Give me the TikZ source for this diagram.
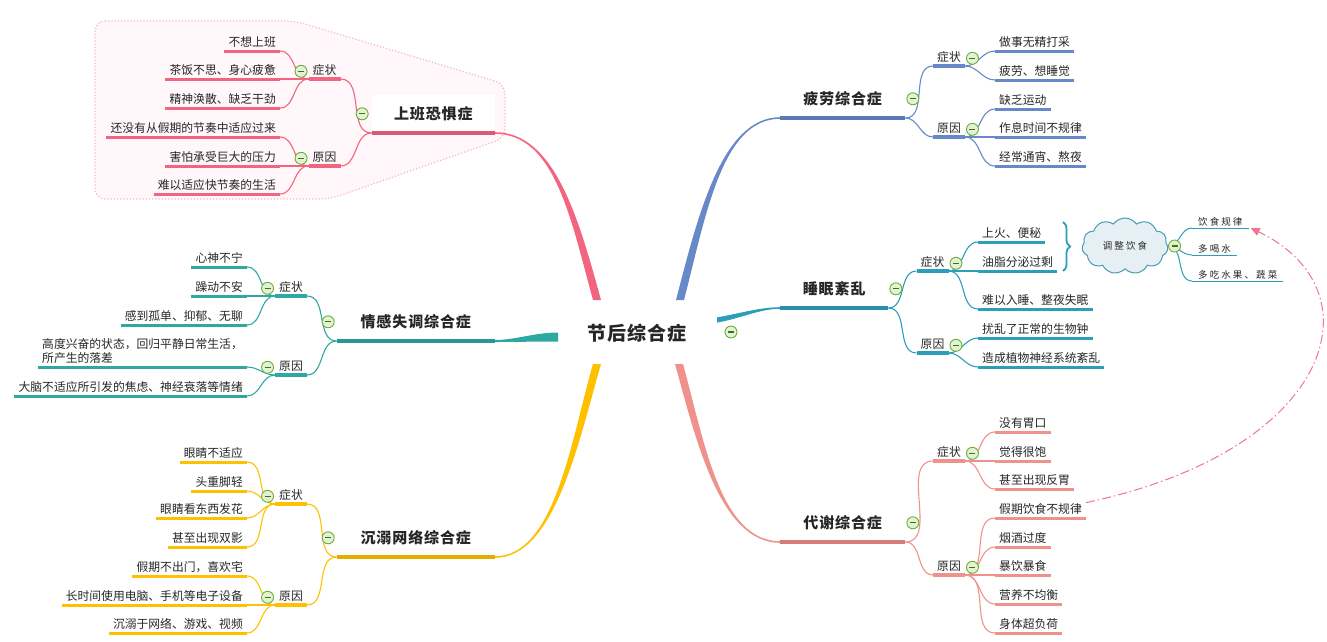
\documentclass[tikz,border=0pt]{standalone}
\usepackage{fontspec}
\setmainfont{Noto Sans CJK SC}
\usepackage{xcolor}
\usepackage{tikz}
\usetikzlibrary{positioning,arrows.meta,calc,shapes.symbols,decorations.pathreplacing}

\definecolor{sbC}{HTML}{F26580}
\definecolor{sbD}{HTML}{DA5A73}
\definecolor{plC}{HTML}{6889C8}
\definecolor{plD}{HTML}{5B7AB3}
\definecolor{smC}{HTML}{2C9EBA}
\definecolor{smD}{HTML}{2A8FA8}
\definecolor{qgC}{HTML}{2FA7A2}
\definecolor{qgD}{HTML}{2A9791}
\definecolor{cnC}{HTML}{FFC000}
\definecolor{cnD}{HTML}{E6AC00}
\definecolor{dxC}{HTML}{F0928C}
\definecolor{dxD}{HTML}{D67C78}
\definecolor{txt}{HTML}{262626}
\definecolor{foldG}{HTML}{6AAD3A}
\definecolor{foldF}{HTML}{E3F2D2}
\definecolor{foldM}{HTML}{3F6F25}
\definecolor{bndF}{HTML}{FFF7FA}
\definecolor{bndD}{HTML}{F5B5C8}
\definecolor{cldF}{HTML}{E6EFF4}
\definecolor{cldD}{HTML}{4A9AB3}
\definecolor{relC}{HTML}{F07490}

\newcommand\leaffont{\fontsize{11.8pt}{14pt}\selectfont}
\newcommand\brfont{\fontsize{15pt}{18pt}\selectfont\bfseries\addfontfeature{LetterSpace=6}}
\newcommand\hubfont{\fontsize{19pt}{22pt}\selectfont\bfseries\addfontfeature{LetterSpace=6}}
\newcommand\notefont{\fontsize{9.5pt}{11pt}\selectfont\addfontfeature{LetterSpace=22}}

% tapered main branch: colour, start, control 1, control 2, end, half width at start, half width at end
\newcommand\brtaper[7]{%
  \fill[#1] ($#2+#6$) .. controls ($#3+#6$) and ($#4+#7$) .. ($#5+#7$)
    -- ($#5-#7$) .. controls ($#4-#7$) and ($#3-#6$) .. ($#2-#6$) -- cycle;}

\begin{document}
\begin{tikzpicture}[x=1pt, y=-1pt,
  base/.style={text=txt, inner xsep=4pt, inner ysep=2.5pt, text height=8.5pt, text depth=1.5pt},
  leaf/.style={base, font=\leaffont,
    append after command={(\tikzlastnode.south west) edge[draw=#1, line width=3pt] (\tikzlastnode.south east)}},
  sub/.style={base, font=\leaffont, anchor=south,
    append after command={(\tikzlastnode.south west) edge[draw=#1, line width=4pt] (\tikzlastnode.south east)}},
  title/.style={text=txt, font=\brfont, inner sep=0pt, minimum height=38pt,
    append after command={(\tikzlastnode.south west) edge[draw=#1, line width=4.5pt] (\tikzlastnode.south east)}},
  note/.style={text=txt, font=\notefont, anchor=south west, inner xsep=6pt, inner ysep=1pt,
    text height=7pt, text depth=1pt,
    append after command={(\tikzlastnode.south west) edge[draw=smC, line width=1pt] (\tikzlastnode.south east)}},
  lnk/.style={draw=#1, line width=1.1pt},
  fold/.style={circle, draw=foldG, fill=foldF, line width=0.9pt, minimum size=12pt, inner sep=0pt,
    path picture={\draw[foldM, line width=1.3pt] ([xshift=3pt]path picture bounding box.west)
      -- ([xshift=-3pt]path picture bounding box.east);}},
  bnd/.style={fill=bndF, draw=bndD, dotted, line width=1.2pt, rounded corners=10pt},
  brc/.style={decorate, decoration={brace, amplitude=7pt}, draw=smC, line width=1.8pt},
  relarr/.style={draw=relC, line width=1pt, dash pattern=on 9pt off 3pt on 1.5pt off 3pt,
    -{Triangle[length=9pt, width=8pt, fill=relC]}}
]
\useasboundingbox (0,0) rectangle (1327,641);

% boundary round the first branch
\draw[bnd] (95,21) -- (295,21) -- (505,84) -- (505,138) -- (330,199) -- (95,199) -- cycle;

% centre
\node[font=\hubfont, text=txt] (hub) at (637,333) {节后综合症};
\coordinate (hub-sb) at (597,300);
\coordinate (hub-pl) at (680,300);
\coordinate (hub-sm) at (717,320);
\coordinate (hub-qg) at (558,337);
\coordinate (hub-cn) at (597,364);
\coordinate (hub-dx) at (679,364);

% main topics
\node[title=sbD, minimum width=123pt, anchor=south east, fill=white] (sb) at (495,133) {上班恐惧症};
\node[title=plD, minimum width=125pt, anchor=south west] (pl) at (780,118) {疲劳综合症};
\node[title=smD, minimum width=108pt, anchor=south west] (sm) at (780,308) {睡眠紊乱};
\node[title=qgD, minimum width=158pt, anchor=south east] (qg) at (495,341) {情感失调综合症};
\node[title=cnD, minimum width=158pt, anchor=south east] (cn) at (495,557) {沉溺网络综合症};
\node[title=dxD, minimum width=125pt, anchor=south west] (dx) at (780,542) {代谢综合症};

\brtaper{sbC}{(hub-sb)}{(575,220)}{(555,133)}{(sb.south east)}{(4,0)}{(0,-0.8)}
\brtaper{plC}{(hub-pl)}{(702,215)}{(722,118)}{(pl.south west)}{(4,0)}{(0,0.8)}
\brtaper{smC}{(hub-sm)}{(740,316)}{(760,308)}{(sm.south west)}{(0,2.6)}{(0,0.8)}
\brtaper{qgC}{(hub-qg)}{(535,337)}{(515,341)}{(qg.south east)}{(0,4.5)}{(0,1)}
\brtaper{cnC}{(hub-cn)}{(575,440)}{(555,557)}{(cn.south east)}{(4,0)}{(0,0.8)}
\brtaper{dxC}{(hub-dx)}{(700,440)}{(720,542)}{(dx.south west)}{(4,0)}{(0,-0.8)}

% 上班恐惧症
\node[sub=sbC] (sb-s) at (324.5,79) {症状};
\node[sub=sbC] (sb-r) at (324.5,166) {原因};
\node[leaf=sbC, anchor=south east] (sb-s1) at (280,51) {不想上班};
\node[leaf=sbC, anchor=south east] (sb-s2) at (280,79) {茶饭不思、身心疲惫};
\node[leaf=sbC, anchor=south east] (sb-s3) at (280,108) {精神涣散、缺乏干劲};
\node[leaf=sbC, anchor=south east] (sb-r1) at (280,137) {还没有从假期的节奏中适应过来};
\node[leaf=sbC, anchor=south east] (sb-r2) at (280,166) {害怕承受巨大的压力};
\node[leaf=sbC, anchor=south east] (sb-r3) at (280,194) {难以适应快节奏的生活};
\draw[lnk=sbC] (sb-s.south east) to[out=0, in=180] (sb.south west);
\draw[lnk=sbC] (sb-r.south east) to[out=0, in=180] (sb.south west);
\foreach \i in {1,2,3} {
  \draw[lnk=sbC] (sb-s\i.south east) to[out=0, in=180] (sb-s.south west);
  \draw[lnk=sbC] (sb-r\i.south east) to[out=0, in=180] (sb-r.south west);
}

% 疲劳综合症
\node[sub=plC] (pl-s) at (949,66) {症状};
\node[sub=plC] (pl-r) at (949,137) {原因};
\node[leaf=plC, anchor=south west] (pl-s1) at (995,51) {做事无精打采};
\node[leaf=plC, anchor=south west] (pl-s2) at (995,80) {疲劳、想睡觉};
\node[leaf=plC, anchor=south west] (pl-r1) at (995,109) {缺乏运动};
\node[leaf=plC, anchor=south west] (pl-r2) at (995,137) {作息时间不规律};
\node[leaf=plC, anchor=south west] (pl-r3) at (995,166) {经常通宵、熬夜};
\draw[lnk=plC] (pl.south east) to[out=0, in=180] (pl-s.south west);
\draw[lnk=plC] (pl.south east) to[out=0, in=180] (pl-r.south west);
\foreach \i in {1,2}
  \draw[lnk=plC] (pl-s.south east) to[out=0, in=180] (pl-s\i.south west);
\foreach \i in {1,2,3}
  \draw[lnk=plC] (pl-r.south east) to[out=0, in=180] (pl-r\i.south west);

% 睡眠紊乱
\node[sub=smC] (sm-s) at (932.5,271) {症状};
\node[sub=smC] (sm-r) at (932.5,353) {原因};
\node[leaf=smC, anchor=south west] (sm-s1) at (978,242) {上火、便秘};
\node[leaf=smC, anchor=south west] (sm-s2) at (978,271) {油脂分泌过剩};
\node[leaf=smC, anchor=south west] (sm-s3) at (978,309) {难以入睡、整夜失眠};
\node[leaf=smC, anchor=south west] (sm-r1) at (978,338) {扰乱了正常的生物钟};
\node[leaf=smC, anchor=south west] (sm-r2) at (978,367) {造成植物神经系统紊乱};
\draw[lnk=smC] (sm.south east) to[out=0, in=180] (sm-s.south west);
\draw[lnk=smC] (sm.south east) to[out=0, in=180] (sm-r.south west);
\foreach \i in {1,2,3}
  \draw[lnk=smC] (sm-s.south east) to[out=0, in=180] (sm-s\i.south west);
\foreach \i in {1,2}
  \draw[lnk=smC] (sm-r.south east) to[out=0, in=180] (sm-r\i.south west);

% summary of the first two symptoms
\coordinate (brc-t) at (1063,222);
\coordinate (brc-b) at (1063,271);
\draw[brc] (brc-t) -- (brc-b);
\node[cloud, cloud puffs=11, cloud puff arc=110, aspect=1.6, draw=cldD, fill=cldF, line width=1pt,
      minimum width=86pt, minimum height=56pt, inner sep=0pt, font=\notefont, text=txt] (cl) at (1125,246) {调整饮食};
\node[note] (cl-1) at (1192,228) {饮食规律};
\node[note] (cl-2) at (1192,255) {多喝水};
\node[note] (cl-3) at (1192,281) {多吃水果、蔬菜};
\foreach \i in {1,2,3}
  \draw[draw=smC, line width=1pt] (cl.east) to[out=0, in=180] (cl-\i.south west);

% 情感失调综合症
\node[sub=qgC] (qg-s) at (291,296) {症状};
\node[sub=qgC] (qg-r) at (291,375) {原因};
\node[leaf=qgC, anchor=south east] (qg-s1) at (247,267) {心神不宁};
\node[leaf=qgC, anchor=south east] (qg-s2) at (247,296) {躁动不安};
\node[leaf=qgC, anchor=south east] (qg-s3) at (247,325) {感到孤单、抑郁、无聊};
\node[leaf=qgC, anchor=south east, align=left] (qg-r1) at (247,367) {高度兴奋的状态，回归平静日常生活，\\所产生的落差};
\node[leaf=qgC, anchor=south east] (qg-r2) at (247,396) {大脑不适应所引发的焦虑、神经衰落等情绪};
\draw[lnk=qgC] (qg-s.south east) to[out=0, in=180] (qg.south west);
\draw[lnk=qgC] (qg-r.south east) to[out=0, in=180] (qg.south west);
\foreach \i in {1,2,3}
  \draw[lnk=qgC] (qg-s\i.south east) to[out=0, in=180] (qg-s.south west);
\foreach \i in {1,2}
  \draw[lnk=qgC] (qg-r\i.south east) to[out=0, in=180] (qg-r.south west);

% 沉溺网络综合症
\node[sub=cnC] (cn-s) at (291,504) {症状};
\node[sub=cnC] (cn-r) at (291,605) {原因};
\node[leaf=cnC, anchor=south east] (cn-s1) at (247,462) {眼睛不适应};
\node[leaf=cnC, anchor=south east] (cn-s2) at (247,491) {头重脚轻};
\node[leaf=cnC, anchor=south east] (cn-s3) at (247,518) {眼睛看东西发花};
\node[leaf=cnC, anchor=south east] (cn-s4) at (247,547) {甚至出现双影};
\node[leaf=cnC, anchor=south east] (cn-r1) at (247,576) {假期不出门，喜欢宅};
\node[leaf=cnC, anchor=south east] (cn-r2) at (247,605) {长时间使用电脑、手机等电子设备};
\node[leaf=cnC, anchor=south east] (cn-r3) at (247,633) {沉溺于网络、游戏、视频};
\draw[lnk=cnC] (cn-s.south east) to[out=0, in=180] (cn.south west);
\draw[lnk=cnC] (cn-r.south east) to[out=0, in=180] (cn.south west);
\foreach \i in {1,...,4}
  \draw[lnk=cnC] (cn-s\i.south east) to[out=0, in=180] (cn-s.south west);
\foreach \i in {1,2,3}
  \draw[lnk=cnC] (cn-r\i.south east) to[out=0, in=180] (cn-r.south west);

% 代谢综合症
\node[sub=dxC] (dx-s) at (949,461) {症状};
\node[sub=dxC] (dx-r) at (949,575) {原因};
\node[leaf=dxC, anchor=south west] (dx-s1) at (995,432) {没有胃口};
\node[leaf=dxC, anchor=south west] (dx-s2) at (995,461) {觉得很饱};
\node[leaf=dxC, anchor=south west] (dx-s3) at (995,489) {甚至出现反胃};
\node[leaf=dxC, anchor=south west] (dx-r1) at (995,518) {假期饮食不规律};
\node[leaf=dxC, anchor=south west] (dx-r2) at (995,547) {烟酒过度};
\node[leaf=dxC, anchor=south west] (dx-r3) at (995,575) {暴饮暴食};
\node[leaf=dxC, anchor=south west] (dx-r4) at (995,604) {营养不均衡};
\node[leaf=dxC, anchor=south west] (dx-r5) at (995,633) {身体超负荷};
\draw[lnk=dxC] (dx.south east) to[out=0, in=180] (dx-s.south west);
\draw[lnk=dxC] (dx.south east) to[out=0, in=180] (dx-r.south west);
\foreach \i in {1,2,3}
  \draw[lnk=dxC] (dx-s.south east) to[out=0, in=180] (dx-s\i.south west);
\foreach \i in {1,...,5}
  \draw[lnk=dxC] (dx-r.south east) to[out=0, in=180] (dx-r\i.south west);

% relationship
\draw[relarr] (dx-r1.north east) .. controls (1335,450) and (1380,290) .. ([xshift=2pt]cl-1.south east);

% collapse buttons
\node[fold] (hub-f) at (731,332) {};
\node[fold, left=3pt of sb] (sb-f) {};
\node[fold, left=1pt of sb-s] (sb-sf) {};
\node[fold, left=1pt of sb-r] (sb-rf) {};
\node[fold, right=1pt of pl] (pl-f) {};
\node[fold, right=1pt of pl-s] (pl-sf) {};
\node[fold, right=1pt of pl-r] (pl-rf) {};
\node[fold, right=1pt of sm] (sm-f) {};
\node[fold, right=1pt of sm-s] (sm-sf) {};
\node[fold, right=1pt of sm-r] (sm-rf) {};
\node[fold, right=0pt of cl] (cl-f) {};
\node[fold, left=2pt of qg] (qg-f) {};
\node[fold, left=1pt of qg-s] (qg-sf) {};
\node[fold, left=1pt of qg-r] (qg-rf) {};
\node[fold, left=2pt of cn] (cn-f) {};
\node[fold, left=1pt of cn-s] (cn-sf) {};
\node[fold, left=1pt of cn-r] (cn-rf) {};
\node[fold, right=1pt of dx] (dx-f) {};
\node[fold, right=1pt of dx-s] (dx-sf) {};
\node[fold, right=1pt of dx-r] (dx-rf) {};
\end{tikzpicture}
\end{document}
